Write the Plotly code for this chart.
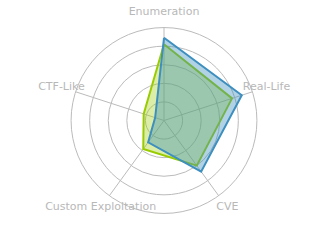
import plotly.graph_objects as go

categories = ["Enumeration", "Real-Life", "CVE", "Custom Exploitation", "CTF-Like"]
green_values = [82, 77, 60, 38, 23]
blue_values = [89, 88, 68, 29, 10]
ring_values = [20, 40, 60, 80, 100]
axis_max = 100
label_r = 116

GRID = "#bbbbbb"

def closed(v):
    return v + v[:1]

fig = go.Figure()
# spokes
for cat in categories:
    fig.add_trace(go.Scatterpolar(
        r=[0, axis_max], theta=[cat, cat], mode="lines",
        line=dict(color=GRID, width=1), hoverinfo="skip", showlegend=False))

fig.add_trace(go.Scatterpolar(
    r=closed(green_values), theta=closed(categories),
    fill="toself", fillcolor="rgba(153,204,0,0.35)",
    line=dict(color="#99cc00", width=2), mode="lines", name="B"))
fig.add_trace(go.Scatterpolar(
    r=closed(blue_values), theta=closed(categories),
    fill="toself", fillcolor="rgba(61,143,191,0.4)",
    line=dict(color="#3d8fbf", width=2), mode="lines", name="A"))
fig.add_trace(go.Scatterpolar(
    r=[label_r] * len(categories), theta=categories, text=categories, mode="text",
    textposition="middle center", cliponaxis=False, hoverinfo="skip",
    textfont=dict(family="DejaVu Sans", size=11, color="#b8b8b8")))

fig.update_layout(
    width=320, height=240,
    margin=dict(l=52, r=44, t=9, b=8),
    showlegend=False,
    paper_bgcolor="white",
    font=dict(family="DejaVu Sans", size=11, color="#b8b8b8"),
    polar=dict(
        bgcolor="white",
        radialaxis=dict(range=[0, 120], tickvals=ring_values, showticklabels=False,
                        ticks="", showline=False, gridcolor=GRID, gridwidth=1),
        angularaxis=dict(rotation=90, direction="clockwise", ticks="",
                         categoryorder="array", categoryarray=categories,
                         showticklabels=False, showline=False, showgrid=False),
    ),
)
fig.write_html("out.html")
